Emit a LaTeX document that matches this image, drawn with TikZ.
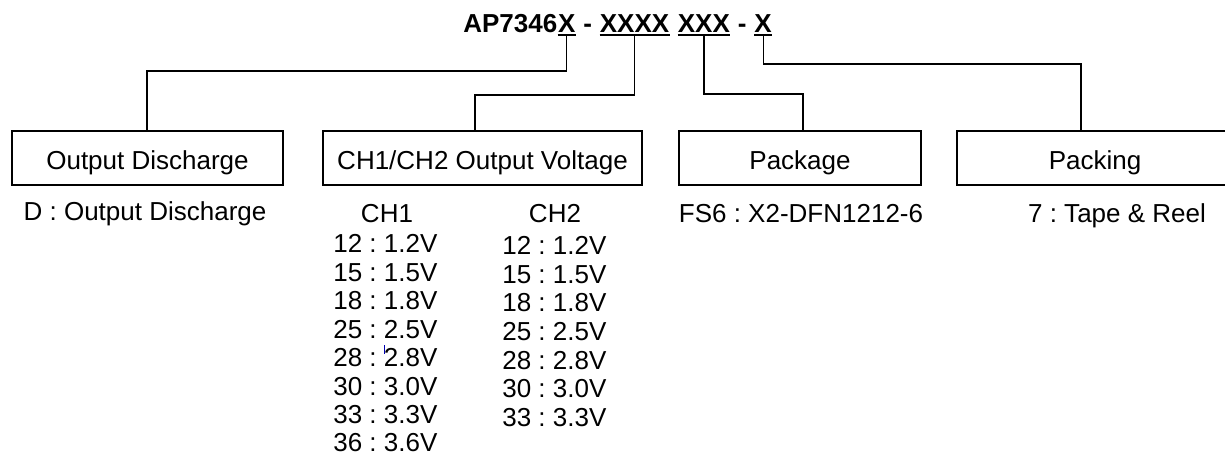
\documentclass[tikz,border=0pt]{standalone}
\usepackage{fontspec}
\setmainfont{Liberation Sans}
\usetikzlibrary{positioning,calc}
\frenchspacing

\begin{document}
\begin{tikzpicture}[x=0.02cm, y=-0.02cm]
  % Definir estilos
  \tikzstyle{title}=[inner sep=0pt, anchor=base west, font=\fontsize{14.8}{17}\selectfont\bfseries]
  \tikzstyle{field}=[rectangle, draw=black, line width=0.7pt, minimum height=1.08cm, text height=0.48cm, text depth=0pt, inner sep=0pt, font=\fontsize{14.8}{17}\selectfont]
  \tikzstyle{desc}=[inner sep=0pt, anchor=base, font=\fontsize{14.8}{17}\selectfont]
  \tikzstyle{vrow}=[inner sep=0pt, anchor=base west, font=\fontsize{14.8}{17}\selectfont]
  \tikzstyle{conn}=[line width=0.7pt, black]
  \tikzstyle{uline}=[line width=1.1pt, black]

  \clip (0,0) rectangle (1225,456);

  % Codigo de pedido
  \node[title] (pn) at (463,32.5) {AP7346};
  \node[title] (f1) at (pn.base east) {X};
  \node[title] (s1) at (f1.base east) {\kern.278em-\kern.278em};
  \node[title] (f2) at (s1.base east) {XXXX};
  \node[title] (s2) at (f2.base east) {\kern.278em};
  \node[title] (f3) at (s2.base east) {XXX};
  \node[title] (s3) at (f3.base east) {\kern.278em-\kern.278em};
  \node[title] (f4) at (s3.base east) {X};
  \foreach \f in {f1,f2,f3,f4}
    \draw[uline] ([yshift=-1.4pt]\f.base west) -- ([yshift=-1.4pt]\f.base east);

  % Campos
  \node[field, minimum width=5.42cm] (disc) at (147.5,158) {Output Discharge};
  \node[field, minimum width=6.38cm] (volt) at (482.5,158) {CH1/CH2 Output Voltage};
  \node[field, minimum width=4.84cm] (pkg) at (800,158) {Package};
  \node[field, minimum width=5.52cm] (pack) at (1095,158) {Packing};

  % Conexiones
  \coordinate (j1) at (147,71);
  \coordinate (j2) at (475,95);
  \coordinate (j3) at (803,94);
  \coordinate (j4) at (1081,64);
  \draw[conn] ([yshift=-1.4pt]f1.south) |- (j1) -- (j1 |- disc.north);
  \draw[conn] ([yshift=-1.4pt]f2.south) |- (j2) -- (j2 |- volt.north);
  \draw[conn] ([yshift=-1.4pt]f3.south) |- (j3) -- (j3 |- pkg.north);
  \draw[conn] ([yshift=-1.4pt]f4.south) |- (j4) -- (j4 |- pack.north);

  % Opciones
  \node[desc] (discd) at (145,220) {D : Output Discharge};
  \node[desc] (ch1) at (387,223) {CH1};
  \node[desc] (ch2) at (555,223) {CH2};
  \node[desc] (pkgd) at (801,223) {FS6 : X2-DFN1212-6};
  \node[desc] (packd) at (1117,223) {7 : Tape \& Reel};

  % Tensiones CH1 / CH2
  \foreach \v [count=\i] in {12 : 1.2V, 15 : 1.5V, 18 : 1.8V, 25 : 2.5V, 28 : 2.8V, 30 : 3.0V, 33 : 3.3V, 36 : 3.6V}
    \node[vrow] (a\i) at (333,{253+28.4*(\i-1)}) {\v};
  \foreach \v [count=\i] in {12 : 1.2V, 15 : 1.5V, 18 : 1.8V, 25 : 2.5V, 28 : 2.8V, 30 : 3.0V, 33 : 3.3V}
    \node[vrow] (b\i) at (502,{255+28.5*(\i-1)}) {\v};

  % marca azul
  \draw[blue!70!black, line width=0.4pt] (384,345) -- (384,354);
\end{tikzpicture}
\end{document}
